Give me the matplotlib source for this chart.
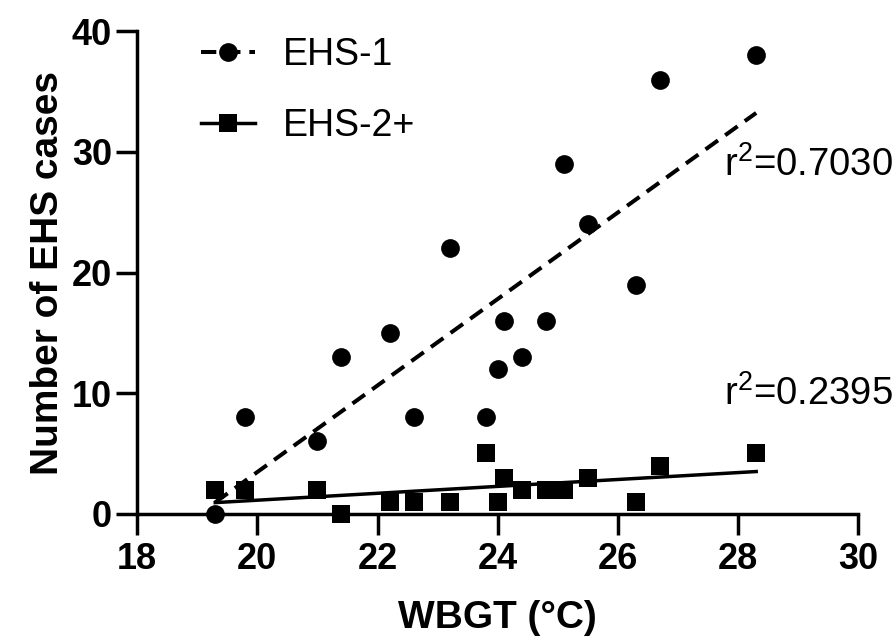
import numpy as np
import matplotlib
matplotlib.use("Agg")
import matplotlib.pyplot as plt
from matplotlib.lines import Line2D

plt.rcParams['font.family'] = ['Liberation Sans', 'DejaVu Sans']
plt.rcParams['mathtext.fontset'] = 'custom'
plt.rcParams['mathtext.rm'] = 'Liberation Sans'
plt.rcParams['mathtext.default'] = 'rm'

### data ###
wbgt     = [19.3, 19.8, 21.0, 21.4, 22.2, 22.6, 23.2, 23.8, 24.0,
            24.1, 24.4, 24.8, 25.1, 25.5, 26.3, 26.7, 28.3]
ehs1     = [0, 8, 6, 13, 15, 8, 22, 8, 12, 16, 13, 16, 29, 24, 19, 36, 38]
ehs2     = [2, 2, 2, 0, 1, 1, 1, 5, 1, 3, 2, 2, 2, 3, 1, 4, 5]
labels   = ["EHS-1", "EHS-2+"]
r2_text  = ["r$^2$=0.7030", "r$^2$=0.2395"]
xticks   = [18, 20, 22, 24, 26, 28, 30]
yticks   = [0, 10, 20, 30, 40]

x  = np.array(wbgt)
y1 = np.array(ehs1)
y2 = np.array(ehs2)

fig = plt.figure(figsize=(8.96, 6.39), dpi=100)
ax  = fig.add_axes([0.153, 0.196, 0.805, 0.755])

# linear fits, drawn over the data range
xx  = np.array([x.min(), x.max()])
p1  = np.polyfit(x, y1, 1)
p2  = np.polyfit(x, y2, 1)
ax.plot(xx, np.polyval(p1, xx), color='k', lw=2.9, ls='--', dashes=(3.8, 2.2), zorder=2)
ax.plot(xx, np.polyval(p2, xx), color='k', lw=2.5, zorder=2)

ax.plot(x, y1, 'o', color='k', ms=13.5, mew=0, zorder=3, clip_on=False)
ax.plot(x, y2, 's', color='k', ms=12.5, mew=0, zorder=3, clip_on=False)

ax.text(27.77, 28.9, r2_text[0], fontsize=27.5, va='center', ha='left')
ax.text(27.77, 9.9, r2_text[1], fontsize=27.5, va='center', ha='left')

ax.set_xlim(18, 30)
ax.set_ylim(0, 40)
ax.set_xticks(xticks)
ax.set_yticks(yticks)
for s in ['top', 'right']:
    ax.spines[s].set_visible(False)
for s in ['left', 'bottom']:
    ax.spines[s].set_linewidth(2.5)
ax.tick_params(length=15, width=2.5, labelsize=26, direction='out')
ax.tick_params(axis='y', pad=3)
ax.tick_params(axis='x', pad=5)
for lab in ax.get_xticklabels() + ax.get_yticklabels():
    lab.set_fontweight('bold')

ax.set_xlabel("WBGT (°C)", fontsize=28, fontweight='bold', labelpad=17)
ax.set_ylabel("Number of EHS cases", fontsize=28, fontweight='bold', labelpad=4)

handles = [Line2D([], [], color='k', lw=2.9, ls='--', dashes=(3.8, 2.2), marker='o', ms=13.5, mew=0),
           Line2D([], [], color='k', lw=2.5, marker='s', ms=12.5, mew=0)]
ax.legend(handles, labels, loc='upper left', bbox_to_anchor=(0.203, 0.972),
          bbox_transform=fig.transFigure, frameon=False, fontsize=27,
          handlelength=1.45, handletextpad=0.75, labelspacing=0.95, borderpad=0)

fig.savefig("out.png", dpi=100)
